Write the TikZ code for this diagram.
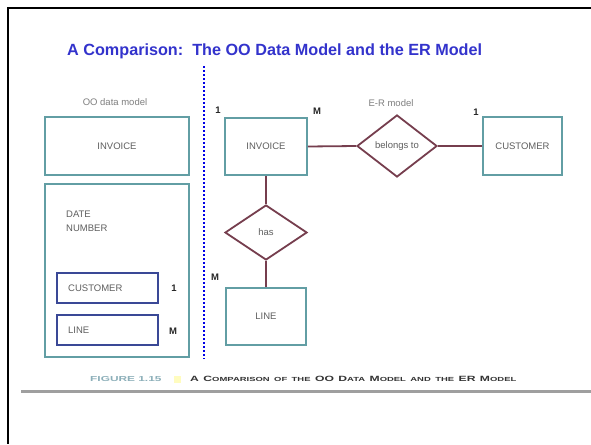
\documentclass[tikz,border=0pt]{standalone}
\usepackage{fontspec}
\usepackage{graphicx}
\setmainfont{Liberation Sans}
\usetikzlibrary{shapes.geometric}
\definecolor{titleblue}{RGB}{51,51,204}
\definecolor{tealline}{RGB}{98,158,164}
\definecolor{navyline}{RGB}{58,72,150}
\definecolor{maroonline}{RGB}{118,62,78}
\definecolor{labelgray}{RGB}{95,95,95}
\definecolor{figteal}{RGB}{140,175,185}
\definecolor{dotblue}{RGB}{0,0,230}
\newcommand\capsc[2]{{\fontsize{7.6}{8}\selectfont #1}{\fontsize{5.9}{8}\selectfont #2}}
\tikzset{
  boxtext/.style={font=\fontsize{9.5}{11}\selectfont, text=labelgray},
  entity/.style={draw=tealline, line width=1.8pt, fill=white, inner sep=0pt, boxtext},
  subbox/.style={draw=navyline, line width=1.8pt, fill=white, inner sep=0pt, boxtext},
  relation/.style={diamond, draw=maroonline, line width=1.8pt, fill=white, inner sep=0pt, boxtext},
  link/.style={draw=maroonline, line width=1.8pt},
  card/.style={font=\bfseries\fontsize{9.5}{11}\selectfont, text=black!85, inner sep=0pt},
  note/.style={font=\fontsize{9.5}{11}\selectfont, text=labelgray!80, inner sep=0pt},
}
\begin{document}
\begin{tikzpicture}[x=1pt,y=-1pt]
\useasboundingbox (0,0) rectangle (591,444);
\fill[white] (0,0) rectangle (591,444);
% page frame (top and left edges)
\coordinate (ftl) at (8,8);
\coordinate (ftr) at (591,8);
\coordinate (fbl) at (8,444);
\draw[black, line width=2pt] (ftr) -- (ftl) -- (fbl);
% heading
\node[anchor=base west, inner sep=0pt, text=titleblue,
      font=\bfseries\fontsize{16.2}{18}\selectfont] (title) at (67,56)
  {A Comparison:\ \ The OO Data Model and the ER Model};
% divider between the two models
\coordinate (dtop) at (204,66);
\coordinate (dbot) at (204,359);
\draw[dotblue, line width=2pt, dash pattern=on 2pt off 2pt] (dtop) -- (dbot);

% ---- OO data model ----
\node[note] (oolabel) at (115,102) {OO data model};
\node[entity, minimum width=144pt, minimum height=58pt] (ooinv) at (117,146) {INVOICE};
\node[entity, minimum width=144pt, minimum height=173pt] (oobody) at (117,270.5) {};
\node[boxtext, anchor=north west, align=left, inner sep=0pt,
      font=\fontsize{9.5}{13.5}\selectfont] (ooattr) at (66,211) {DATE\\NUMBER};
\node[subbox, minimum width=101pt, minimum height=30pt] (oocust) at (107.5,288) {};
\node[boxtext, anchor=west, inner sep=0pt] (oocusttext) at (68,288) {CUSTOMER};
\node[subbox, minimum width=101pt, minimum height=30pt] (ooline) at (107.5,330) {};
\node[boxtext, anchor=west, inner sep=0pt] (oolinetext) at (68,330) {LINE};
\node[card] (oo1) at (174,288) {1};
\node[card] (ooM) at (173,331) {M};

% ---- E-R model ----
\node[note] (erlabel) at (391,103) {E-R model};
\node[entity, minimum width=82pt, minimum height=57pt] (erinv) at (266,146.5) {INVOICE};
\node[relation, minimum width=80pt, minimum height=62pt] (belongs) at (397,146) {belongs to};
\node[entity, minimum width=79pt, minimum height=58pt] (ercust) at (522.5,146) {CUSTOMER};
\node[relation, minimum width=82pt, minimum height=55pt] (has) at (266,232.5) {has};
\node[entity, minimum width=80pt, minimum height=57pt] (erline) at (266,316.5) {LINE};
\draw[link] (erinv.east) -- (belongs.west);
\draw[link] (belongs.east) -- (ercust.west);
\draw[link] (erinv.south) -- (has.north);
\draw[link] (has.south) -- (erline.north);
\node[card] (er1a) at (218,110) {1};
\node[card] (erMa) at (317,111) {M};
\node[card] (er1b) at (476,112) {1};
\node[card] (erMb) at (215,277) {M};

% ---- caption and rule ----
\node[anchor=west, inner sep=0pt, text=figteal, font=\bfseries\fontsize{7.2}{8}\selectfont]
  (figno) at (90,379) {\scalebox{1.65}[1]{FIGURE 1.15}};
\node[fill=yellow!25, inner sep=0pt, minimum size=7pt] (figmark) at (177,379) {};
\node[anchor=west, inner sep=0pt, text=black!80, font=\bfseries] (figcap) at (190,379)
  {\scalebox{1.6}[1]{\capsc{A}{} \capsc{C}{OMPARISON} \capsc{}{OF} \capsc{}{THE} \capsc{OO}{} \capsc{D}{ATA} \capsc{M}{ODEL} \capsc{}{AND} \capsc{}{THE} \capsc{ER}{} \capsc{M}{ODEL}}};
\coordinate (rl) at (21,391);
\coordinate (rr) at (591,391);
\draw[gray!75, line width=3pt] (rl) -- (rr);
\end{tikzpicture}
\end{document}
